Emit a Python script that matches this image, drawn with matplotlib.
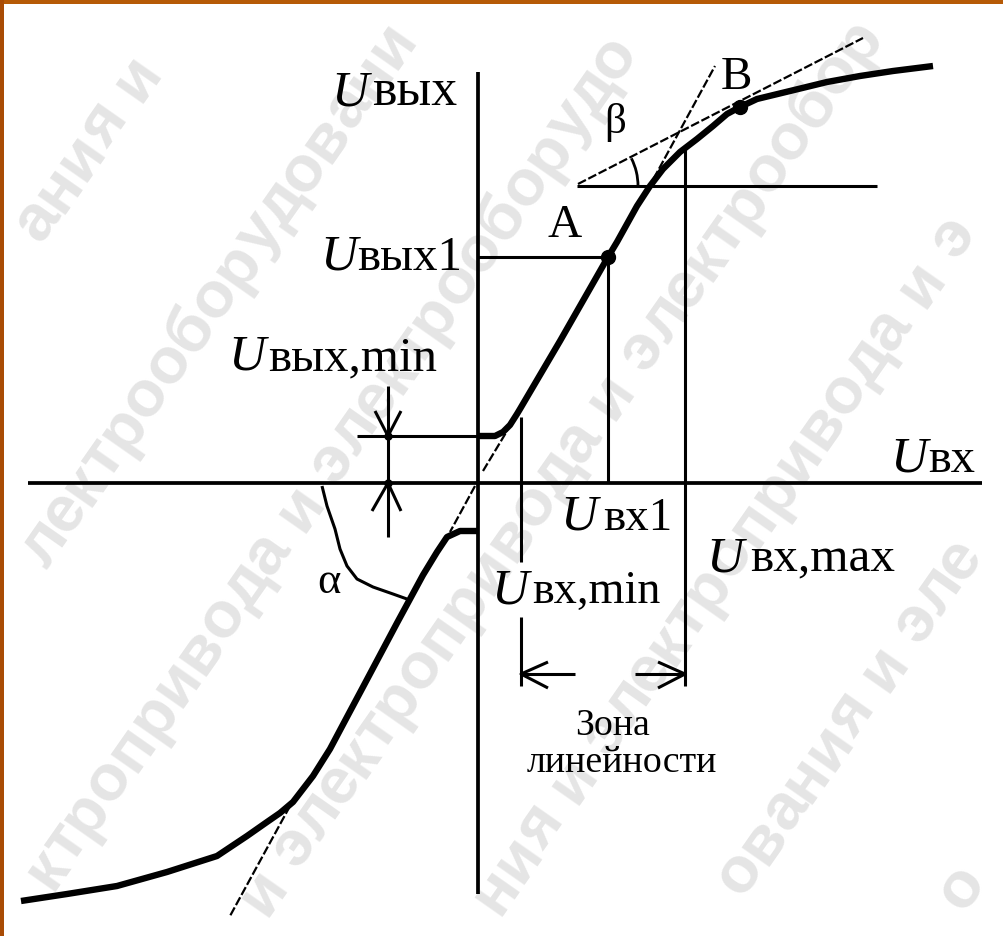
import matplotlib
matplotlib.use("Agg")
import numpy as np
import matplotlib.pyplot as plt
from matplotlib.patches import Arc, Rectangle

W, H = 1004, 937          # canvas size in pixels
X0, Y0 = 478, 484         # where the two axes cross

# Transfer characteristic Uвых = f(Uвх), upper branch (Uвх > 0)
upper_in = [0, 17, 25, 32, 39, 42, 82, 130, 139, 159, 172, 185, 202, 219,
            235, 249, 262, 279, 312, 349, 382, 415, 455]
upper_out = [47, 47, 51, 58, 69, 74, 142, 226, 241, 277, 297, 314, 331, 344,
             357, 369, 376, 384, 392, 401, 407, 412, 417]
# lower branch (Uвх < 0)
lower_in = [0, -18, -31, -41, -55, -68, -81, -98, -115, -131, -148, -165,
            -185, -198, -211, -231, -261, -311, -361, -411, -457]
lower_out = [-48, -48, -54, -69, -92, -116, -140, -172, -204, -234, -266,
             -293, -319, -330, -339, -353, -373, -389, -403, -411, -418]

# characteristic points
point_A = (130, 226)      # (Uвх1, Uвых1)
point_B = (262, 376)
u_in_min = 43
u_in_max = 207
u_out_min = 47

# tangent / construction lines (Uвх, Uвых pairs)
tangent_origin_up = ([5, 29], [12, 52])
tangent_origin_dn = ([-3, -28], [-3, -49])
tangent_lower = ([-188, -248], [-323, -433])
tangent_A = ([170, 237], [294, 417])
tangent_B = ([100, 385], [299, 445])
beta_base = ([99, 399], [297, 297])
alpha_leader_x = [-156, -151, -143, -138, -131, -121, -105, -85, -71]
alpha_leader_y = [-3, -23, -46, -66, -83, -96, -104, -111, -116]

SERIF = ["Liberation Serif", "DejaVu Serif"]
INK = "black"

fig = plt.figure(figsize=(W / 100, H / 100), dpi=100)
fig.patch.set_facecolor("white")
ax = fig.add_axes([0, 0, 1, 1])
ax.set_xlim(-X0, W - X0)
ax.set_ylim(-(H - Y0), Y0)
ax.axis("off")
renderer = fig.canvas.get_renderer()

# --- background watermark ---------------------------------------------
phrase = "электрооборудования и электропривода и "
ang = 55.0
ca, sa = np.cos(np.radians(ang)), np.sin(np.radians(ang))
wm = dict(fontsize=47, fontweight="bold", family=["Liberation Sans", "DejaVu Sans"],
          color="#e5e5e5", zorder=0)


def ink_width(s):
    p = ax.text(0, 0, s, **wm)
    w = p.get_window_extent(renderer).width
    p.remove()
    return w


ref_w = ink_width("н")
long_text = phrase * 3
offsets = [0.0] + [ink_width(long_text[:i] + "н") - ref_w
                   for i in range(1, len(long_text))]
period = ink_width(phrase + phrase + "н") - ink_width(phrase + "н")

for k in range(-6, 6):
    px = 46 + 232 * k
    bx, by = px - X0, Y0 - 900
    start = -900.0 + (k * 137) % period
    for rep in range(4):
        base = start + rep * period * 3
        for ch, off in zip(long_text, offsets):
            if ch == " ":
                continue
            d = base + off
            x, y = bx + d * ca, by + d * sa
            if not (-X0 - 80 < x < W - X0 + 80 and -(H - Y0) - 80 < y < Y0 + 80):
                continue
            t = ax.text(x, y, ch, rotation=ang, rotation_mode="anchor",
                        ha="left", va="baseline", **wm)
            bb = t.get_window_extent(renderer)
            if bb.x0 < 1 or bb.y0 < 1 or bb.x1 > W - 1 or bb.y1 > H - 1:
                t.remove()

# --- axes of the diagram ----------------------------------------------
ax.plot([-450, 504], [0, 0], color=INK, lw=2.7, solid_capstyle="butt", zorder=3)
ax.plot([0, 0], [411, -411], color=INK, lw=2.7, solid_capstyle="butt", zorder=3)

# --- characteristic -----------------------------------------------------
kw_curve = dict(color=INK, lw=4.6, solid_joinstyle="round",
                solid_capstyle="butt", zorder=4)
ax.plot(upper_in, upper_out, **kw_curve)
ax.plot(lower_in, lower_out, **kw_curve)

# --- thin construction lines ------------------------------------------
kw_thin = dict(color=INK, lw=2.2, solid_capstyle="butt", zorder=3)
kw_dash = dict(color=INK, lw=1.6, linestyle=(0, (4, 1.2)), zorder=3)

for xs, ys in (tangent_origin_up, tangent_origin_dn, tangent_lower,
               tangent_A, tangent_B):
    ax.plot(xs, ys, **kw_dash)
ax.plot(*beta_base, **kw_thin)

# level of A and the verticals at Uвх1, Uвх,max, Uвх,min
ax.plot([0, point_A[0]], [point_A[1], point_A[1]], **kw_thin)
ax.plot([point_A[0], point_A[0]], [point_A[1], 0], **kw_thin)
ax.plot([u_in_max, u_in_max], [334, -203], **kw_thin)
ax.plot([u_in_min, u_in_min], [66, -79], **kw_thin)
ax.plot([u_in_min, u_in_min], [-134, -203], **kw_thin)

# linearity zone dimension
yd = -191
ax.plot([u_in_min, 97], [yd, yd], **kw_thin)
ax.plot([157, u_in_max], [yd, yd], **kw_thin)
for tip, d in ((u_in_min, 1), (u_in_max, -1)):
    ax.plot([tip + d * 27, tip, tip + d * 27], [yd + 12, yd, yd - 14], **kw_thin)

# Uвых,min dimension
xm = -90
ax.plot([-121, 0], [u_out_min, u_out_min], **kw_thin)
ax.plot([xm, xm], [97, -54], **kw_thin)
ax.plot([xm - 13, xm, xm + 13], [u_out_min + 25, u_out_min, u_out_min + 25], **kw_thin)
ax.plot([xm - 16, xm, xm + 13], [-28, 0, -28], **kw_thin)
ax.plot([xm, xm], [u_out_min, 0], "o", ms=5, color=INK, zorder=5)

# angle marks
ax.plot(alpha_leader_x, alpha_leader_y, **kw_thin)
ax.add_patch(Arc((beta_base[0][0], beta_base[1][0]), 122, 122, theta1=0,
                 theta2=27, color=INK, lw=2.0, zorder=3))

# points A and B
ax.plot(*point_A, "o", ms=10, color=INK, zorder=6)
ax.plot(*point_B, "o", ms=10, color=INK, zorder=6)


# --- labels -------------------------------------------------------------
def fit(t, width):
    bb = t.get_window_extent(renderer)
    t.set_fontsize(t.get_fontsize() * width / bb.width)


def ulabel(xu, x0, x1, y, suffix, usize=37):
    ax.text(xu - 2, y, "U", family=SERIF, style="italic", fontsize=usize,
            ha="left", va="baseline", zorder=7)
    t = ax.text(x0, y, suffix, family=SERIF, fontsize=30, ha="left",
                va="baseline", zorder=7)
    fit(t, x1 - x0)


ulabel(-145, -106, -21, 379, "вых")
ulabel(-156, -121, -16, 214, "вых1")
ulabel(-248, -210, -41, 114, "вых,min")
ulabel(414, 450, 497, 12, "вх")
ulabel(84, 125, 194, -46, "вх1")
ulabel(15, 54, 182, -119, "вх,min")
ulabel(230, 272, 417, -87, "вх,max")

t = ax.text(97, -251, "Зона", family=SERIF, fontsize=28, ha="left",
            va="baseline", zorder=7)
fit(t, 75)
t = ax.text(49, -288, "линейности", family=SERIF, fontsize=28, ha="left",
            va="baseline", zorder=7)
fit(t, 191)

ax.text(70, 247, "A", family=SERIF, fontsize=34, ha="left", va="baseline", zorder=7)
ax.text(243, 395, "B", family=SERIF, fontsize=34, ha="left", va="baseline", zorder=7)
ax.text(137, 361, "β", family=SERIF, fontsize=31, ha="center", va="center", zorder=7)
ax.text(-149, -98, "α", family=SERIF, fontsize=32, ha="center", va="center", zorder=7)

# --- frame edge -----------------------------------------------------------
fig.patches.append(Rectangle((0, 1 - 5 / H), 1, 5 / H, transform=fig.transFigure,
                             facecolor="#b65a06", edgecolor="none", zorder=10))
fig.patches.append(Rectangle((0, 0), 4 / W, 1, transform=fig.transFigure,
                             facecolor="#a94c05", edgecolor="none", zorder=10))

fig.savefig("out.png", dpi=100, facecolor="white")
